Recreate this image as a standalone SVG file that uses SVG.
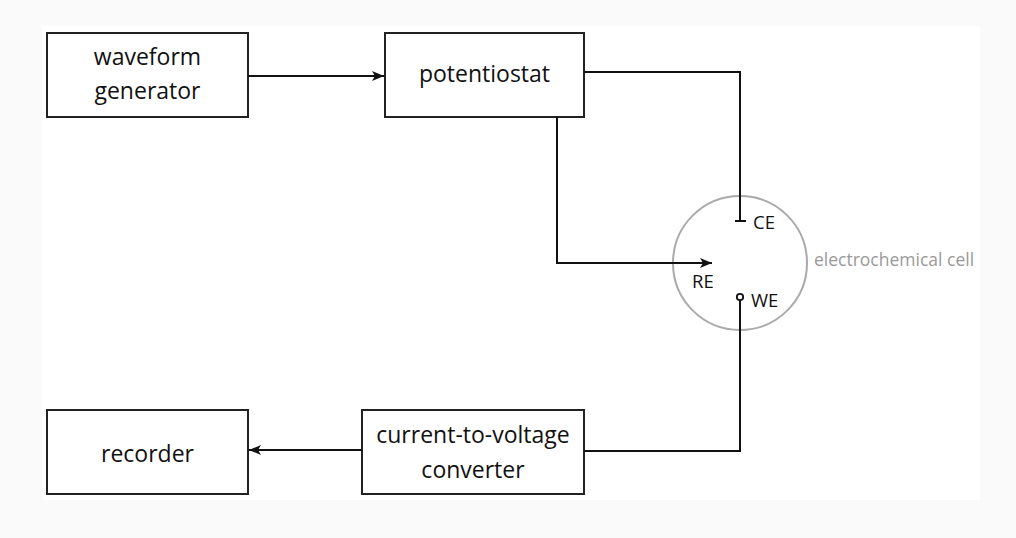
<svg xmlns="http://www.w3.org/2000/svg" width="1016" height="538" viewBox="0 0 1016 538">
<defs>
<style>
.box{fill:#fff;stroke:#222;stroke-width:2}
.lbl{font-family:"Open Sans","Noto Sans",sans-serif;font-size:23px;fill:#111;text-anchor:middle}
.sm{font-family:"Open Sans","Noto Sans",sans-serif;font-size:18.5px;fill:#111}
.wire{fill:none;stroke:#111;stroke-width:2}
</style>
<marker id="arr" viewBox="0 0 12 10" refX="12" refY="5" markerWidth="12" markerHeight="10" markerUnits="userSpaceOnUse" orient="auto">
<path d="M0,0 L12,5 L0,10 L3,5 z" fill="#111"/>
</marker>
</defs>
<rect width="1016" height="538" fill="#fafafa"/>
<rect x="42" y="26" width="938" height="474" fill="#fff"/>
<g id="cell">
<circle cx="740" cy="263" r="67" fill="none" stroke="#aaa" stroke-width="2"/>
<text x="814" y="266" font-family="Open Sans, Noto Sans, sans-serif" font-size="17.5" fill="#999">electrochemical cell</text>
<text class="sm" x="753" y="229">CE</text>
<text class="sm" x="692" y="288">RE</text>
<text class="sm" x="751" y="307">WE</text>
</g>
<g id="waveform-generator">
<rect class="box" x="47" y="33" width="201" height="84"/>
<text class="lbl" x="147.5" y="65">waveform</text>
<text class="lbl" x="147.5" y="99">generator</text>
</g>
<g id="potentiostat">
<rect class="box" x="385" y="33" width="199" height="84"/>
<text class="lbl" x="484.5" y="82">potentiostat</text>
</g>
<g id="recorder">
<rect class="box" x="47" y="410" width="201" height="84"/>
<text class="lbl" x="147.5" y="462">recorder</text>
</g>
<g id="converter">
<rect class="box" x="362" y="410" width="222" height="84"/>
<text class="lbl" x="473" y="443">current-to-voltage</text>
<text class="lbl" x="473" y="478">converter</text>
</g>
<g id="connectors">
<line class="wire" x1="248" y1="76" x2="384" y2="76" marker-end="url(#arr)"/>
<polyline class="wire" points="584,72 740,72 740,221"/>
<line class="wire" x1="735" y1="221" x2="746" y2="221"/>
<polyline class="wire" points="557,117 557,263 712,263" marker-end="url(#arr)"/>
<polyline class="wire" points="584,451 740,451 740,300"/>
<circle cx="740" cy="297" r="3.2" fill="#fff" stroke="#111" stroke-width="1.8"/>
<line class="wire" x1="362" y1="450" x2="249" y2="450" marker-end="url(#arr)"/>
</g>
</svg>
